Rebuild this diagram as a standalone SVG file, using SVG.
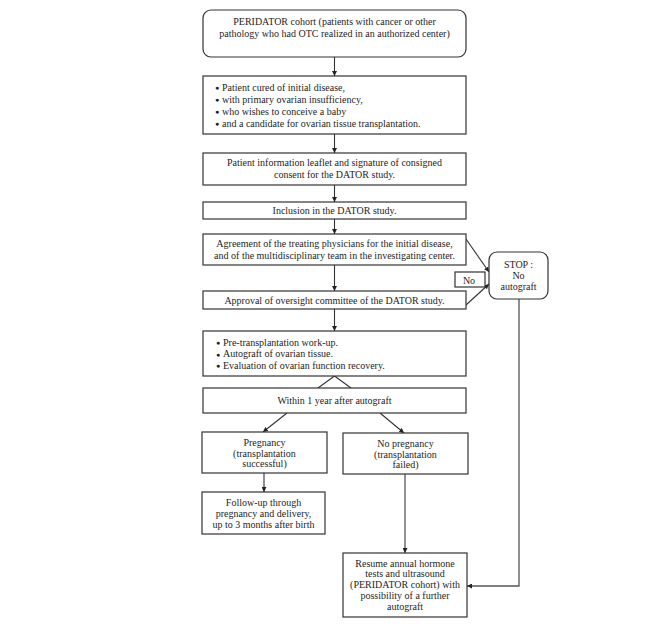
<svg xmlns="http://www.w3.org/2000/svg" width="666" height="626" viewBox="0 0 666 626">
<defs>
<marker id="ah" viewBox="0 0 10 10" refX="10" refY="5" markerWidth="5" markerHeight="5" orient="auto" markerUnits="userSpaceOnUse">
<path d="M0,0 L10,5 L0,10 z" fill="#222"/>
</marker>
<style>
.box{fill:#fff;stroke:#333;stroke-width:1.2}
.t{font-family:"Liberation Serif","Times New Roman",serif;font-size:10px;fill:#1e1e1e}
.c{text-anchor:middle}
.b{font-size:7px}
.ln{fill:none;stroke:#333;stroke-width:1.1}
.la{fill:none;stroke:#333;stroke-width:1.1;marker-end:url(#ah)}
.gl{fill:none;stroke:#555;stroke-width:1.3;marker-end:url(#ah)}
</style>
</defs>
<rect width="666" height="626" fill="#fff"/>

<g id="connectors">
<line class="la" x1="334.5" y1="57" x2="334.5" y2="76"/>
<line class="la" x1="334.5" y1="134" x2="334.5" y2="153"/>
<line class="la" x1="334.5" y1="185" x2="334.5" y2="202"/>
<line class="la" x1="334.5" y1="219" x2="334.5" y2="234"/>
<line class="la" x1="334.5" y1="265" x2="334.5" y2="291"/>
<line class="la" x1="334.5" y1="309" x2="334.5" y2="331"/>
<line class="la" x1="466" y1="239" x2="489" y2="272"/>
<line class="la" x1="466" y1="305" x2="489" y2="284"/>
<line class="ln" x1="334.5" y1="376" x2="318" y2="388"/>
<line class="ln" x1="334.5" y1="376" x2="351" y2="388"/>
<line class="la" x1="287" y1="413" x2="263" y2="432"/>
<line class="la" x1="380" y1="413" x2="404" y2="433"/>
<line class="la" x1="264" y1="473" x2="264" y2="492"/>
<line class="gl" x1="405" y1="474" x2="405" y2="553"/>
<polyline class="gl" points="519,299 519,586 467,586"/>
</g>

<g id="n1">
<rect class="box" x="203" y="10" width="263" height="47" rx="8"/>
<text class="t c" x="334.5" y="24.5">PERIDATOR cohort (patients with cancer or other</text>
<text class="t c" x="334.5" y="36.5">pathology who had OTC realized in an authorized center)</text>
</g>

<g id="n2">
<rect class="box" x="203" y="76" width="263" height="58"/>
<text class="t b" x="215" y="90">●</text>
<text class="t b" x="215" y="102">●</text>
<text class="t b" x="215" y="114">●</text>
<text class="t b" x="215" y="126">●</text>
<text class="t" x="222" y="90.5">Patient cured of initial disease,</text>
<text class="t" x="222" y="102.5">with primary ovarian insufficiency,</text>
<text class="t" x="222" y="114.5">who wishes to conceive a baby</text>
<text class="t" x="222" y="126.5">and a candidate for ovarian tissue transplantation.</text>
</g>

<g id="n3">
<rect class="box" x="203" y="153" width="263" height="32"/>
<text class="t c" x="334.5" y="165.5">Patient information leaflet and signature of consigned</text>
<text class="t c" x="334.5" y="177.5">consent for the DATOR study.</text>
</g>

<g id="n4">
<rect class="box" x="203" y="202" width="263" height="17"/>
<text class="t c" x="334.5" y="214">Inclusion in the DATOR study.</text>
</g>

<g id="n5">
<rect class="box" x="203" y="234" width="263" height="31"/>
<text class="t c" x="334.5" y="246.5">Agreement of the treating physicians for the initial disease,</text>
<text class="t c" x="334.5" y="258.5">and of the multidisciplinary team in the investigating center.</text>
</g>

<g id="no">
<rect class="box" x="455" y="272" width="30" height="15"/>
<text class="t c" x="469" y="283.5">No</text>
</g>

<g id="n6">
<rect class="box" x="203" y="291" width="263" height="18"/>
<text class="t c" x="334.5" y="303.5">Approval of oversight committee of the DATOR study.</text>
</g>

<g id="stop">
<rect class="box" x="489" y="252" width="59" height="47" rx="8"/>
<text class="t c" x="518.5" y="267.5">STOP :</text>
<text class="t c" x="518.5" y="278.5">No</text>
<text class="t c" x="518.5" y="289.5">autograft</text>
</g>

<g id="n7">
<rect class="box" x="203" y="331" width="263" height="45"/>
<text class="t b" x="216" y="345">●</text>
<text class="t b" x="216" y="356.5">●</text>
<text class="t b" x="216" y="368">●</text>
<text class="t" x="223" y="345.5">Pre-transplantation work-up.</text>
<text class="t" x="223" y="357">Autograft of ovarian tissue.</text>
<text class="t" x="223" y="368.5">Evaluation of ovarian function recovery.</text>
</g>

<g id="n8">
<rect class="box" x="203" y="388" width="263" height="25"/>
<text class="t c" x="334.5" y="403.5">Within 1 year after autograft</text>
</g>

<g id="preg">
<rect class="box" x="202" y="432" width="125" height="41"/>
<text class="t c" x="264.5" y="445.5">Pregnancy</text>
<text class="t c" x="264.5" y="456.5">(transplantation</text>
<text class="t c" x="264.5" y="467">successful)</text>
</g>

<g id="nopreg">
<rect class="box" x="343" y="433" width="125" height="41"/>
<text class="t c" x="405.5" y="446.5">No pregnancy</text>
<text class="t c" x="405.5" y="457.5">(transplantation</text>
<text class="t c" x="405.5" y="468">failed)</text>
</g>

<g id="follow">
<rect class="box" x="202" y="492" width="123" height="42"/>
<text class="t c" x="263.5" y="505.5">Follow-up through</text>
<text class="t c" x="263.5" y="516.5">pregnancy and delivery,</text>
<text class="t c" x="263.5" y="527.5">up to 3 months after birth</text>
</g>

<g id="resume">
<rect class="box" x="343" y="553" width="124" height="64"/>
<text class="t c" x="405" y="566.5">Resume annual hormone</text>
<text class="t c" x="405" y="577.3">tests and ultrasound</text>
<text class="t c" x="405" y="588">(PERIDATOR cohort) with</text>
<text class="t c" x="405" y="598.8">possibility of a further</text>
<text class="t c" x="405" y="609.5">autograft</text>
</g>
</svg>
